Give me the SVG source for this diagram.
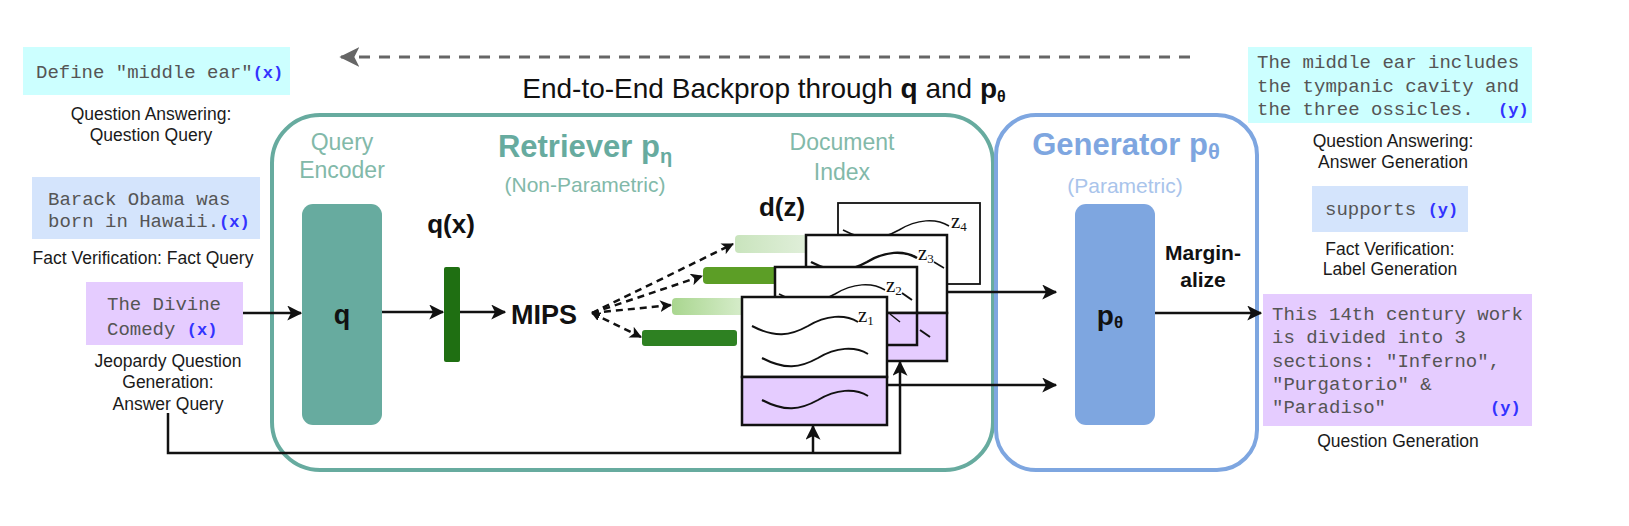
<svg xmlns="http://www.w3.org/2000/svg" xmlns:xlink="http://www.w3.org/1999/xlink" width="1629" height="526" viewBox="0 0 1629 526">
<style>
.sans{font-family:"Liberation Sans",Arial,sans-serif}
.mono{font-family:"Liberation Mono","Courier New",monospace;font-size:19px;fill:#555}
.tag{font-weight:bold;fill:#3333ff;font-size:17px}
.lbl{font-family:"Liberation Sans",Arial,sans-serif;font-size:17.5px;fill:#1a1a1a;text-anchor:middle}
.teal{fill:#82B9A9;font-size:23px;text-anchor:middle}
.bold{font-family:"Liberation Sans",Arial,sans-serif;font-weight:bold;fill:#111}
.conn{fill:none;stroke:#111;stroke-width:2.5}
.dash{fill:none;stroke:#111;stroke-width:2.5;stroke-dasharray:7 5}
.doc{fill:#fff;stroke:#111;stroke-width:2.5}
.purple{fill:#E5CCFF;stroke:#111;stroke-width:2.5}
.wave{fill:none;stroke:#111;stroke-width:2}
.z{font-family:"Liberation Serif","Times New Roman",serif;font-size:21px;fill:#111}
</style>
<defs>
<marker id="arr" viewBox="0 0 12 12" refX="11" refY="6" markerWidth="15" markerHeight="15" markerUnits="userSpaceOnUse" orient="auto">
<path d="M0,0 L12,6 L0,12 L3,6 z" fill="#111"/>
</marker>
<marker id="arrs" viewBox="0 0 12 12" refX="11" refY="6" markerWidth="12" markerHeight="12" markerUnits="userSpaceOnUse" orient="auto">
<path d="M0,0 L12,6 L0,12 L3,6 z" fill="#111"/>
</marker>
<marker id="arrstart" viewBox="0 0 12 12" refX="1" refY="6" markerWidth="9" markerHeight="9" markerUnits="userSpaceOnUse" orient="auto">
<path d="M12,0 L0,6 L12,12 z" fill="#111"/>
</marker>
<marker id="arrg" viewBox="0 0 12 12" refX="11" refY="6" markerWidth="20" markerHeight="20" markerUnits="userSpaceOnUse" orient="auto">
<path d="M0,0 L12,6 L0,12 L3,6 z" fill="#666"/>
</marker>
<linearGradient id="g1" x1="0" x2="1" y1="0" y2="0"><stop offset="0" stop-color="#c9e4bd"/><stop offset="1" stop-color="#e3f0dd"/></linearGradient>
<linearGradient id="g3" x1="0" x2="1" y1="0" y2="0"><stop offset="0" stop-color="#a9d68f"/><stop offset="1" stop-color="#dcefd2"/></linearGradient>
<path id="wv" d="M0,4 C23,16 38,14 56,4 C74,-7 93,-8 106,0"/>
</defs>

<g id="backprop">
<line x1="1190" y1="57" x2="341" y2="57" stroke="#666" stroke-width="3" stroke-dasharray="11 9" marker-end="url(#arrg)"/>
<text class="sans" x="764" y="98" font-size="28" text-anchor="middle" fill="#111">End-to-End Backprop through <tspan font-weight="bold">q</tspan> and <tspan font-weight="bold">p</tspan><tspan font-size="16" dy="4" font-weight="bold">θ</tspan></text>
</g>

<g id="retriever">
<rect x="272" y="115" width="721" height="355" rx="48" fill="none" stroke="#67AB9F" stroke-width="4"/>
<text class="bold" x="585" y="157" font-size="31" text-anchor="middle" style="fill:#67AB9F">Retriever p<tspan font-size="20" dy="6">η</tspan></text>
<text class="sans teal" x="585" y="192" style="font-size:21px">(Non-Parametric)</text>
</g>

<g id="generator">
<rect x="996" y="115" width="261" height="355" rx="40" fill="none" stroke="#7EA6E0" stroke-width="4"/>
<text class="bold" x="1126" y="155" font-size="31" text-anchor="middle" style="fill:#7EA6E0">Generator p<tspan font-size="22" dy="4">θ</tspan></text>
<text class="sans" x="1125" y="193" font-size="21" text-anchor="middle" fill="#A9C4EB">(Parametric)</text>
</g>

<g id="query-encoder">
<text class="sans teal" x="342" y="150">Query</text>
<text class="sans teal" x="342" y="178">Encoder</text>
<rect x="302" y="204" width="80" height="221" rx="11" fill="#67AB9F"/>
<text class="bold" x="342" y="324" font-size="27" text-anchor="middle">q</text>
</g>

<g id="qx">
<text class="bold" x="451" y="233" font-size="26" text-anchor="middle">q(x)</text>
<rect x="444" y="267" width="16" height="95" rx="2" fill="#1F6F12"/>
</g>

<g id="mips">
<text class="bold" x="511" y="324" font-size="27">MIPS</text>
</g>

<g id="document-index">
<text class="sans teal" x="842" y="150">Document</text>
<text class="sans teal" x="842" y="180">Index</text>
<text class="bold" x="782" y="216" font-size="26" text-anchor="middle">d(z)</text>
<rect x="735" y="235" width="80" height="18" rx="4" fill="url(#g1)"/>
<rect x="703" y="267" width="80" height="17" rx="4" fill="#5C9E26"/>
<rect x="672" y="298" width="80" height="17" rx="4" fill="url(#g3)"/>
<rect x="642" y="330" width="95" height="16" rx="3" fill="#2E8122"/>
</g>

<g id="doc4">
<rect x="838" y="203" width="142" height="81" fill="#fff" stroke="#111" stroke-width="1.8"/>
<use href="#wv" xlink:href="#wv" class="wave" transform="translate(843,226)" style="stroke-width:1.5"/>
<text class="z" x="951" y="228">z<tspan font-size="13" dy="3">4</tspan></text>
</g>

<g id="doc3">
<rect class="doc" x="806" y="235" width="141" height="78"/>
<rect class="purple" x="806" y="313" width="141" height="48"/>
<use href="#wv" xlink:href="#wv" class="wave" transform="translate(811,258)" style="stroke-width:2.5"/>
<text class="z" x="918" y="260">z<tspan font-size="13" dy="3">3</tspan></text>
<path class="wave" d="M934,262 l10,6" style="stroke-width:1.5"/>
<path class="wave" d="M920,330 l10,7"/>
</g>

<g id="doc2">
<rect class="doc" x="775" y="267" width="142" height="46"/>
<rect class="purple" x="775" y="313" width="142" height="32"/>
<use href="#wv" xlink:href="#wv" class="wave" transform="translate(779,290)" style="stroke-width:1.5"/>
<text class="z" x="886" y="292">z<tspan font-size="13" dy="3">2</tspan></text>
<path class="wave" d="M902,293 l10,7" style="stroke-width:2"/>
<path class="wave" d="M890,314 l10,8" style="stroke-width:1.5"/>
</g>

<g id="doc1">
<rect class="doc" x="742" y="297" width="145" height="80"/>
<rect class="purple" x="742" y="377" width="145" height="48"/>
<use href="#wv" xlink:href="#wv" class="wave" transform="translate(752,322)"/>
<text class="z" x="858" y="322">z<tspan font-size="13" dy="3">1</tspan></text>
<use href="#wv" xlink:href="#wv" class="wave" transform="translate(762,354)"/>
<use href="#wv" xlink:href="#wv" class="wave" transform="translate(762,396)"/>
</g>

<g id="generator-block">
<rect x="1075" y="204" width="80" height="221" rx="11" fill="#7EA6E0"/>
<text class="bold" x="1110" y="325" font-size="28" text-anchor="middle">p<tspan font-size="17" dy="3">θ</tspan></text>
<text class="bold" x="1203" y="260" font-size="21" text-anchor="middle">Margin-</text>
<text class="bold" x="1203" y="287" font-size="21" text-anchor="middle">alize</text>
</g>

<g id="input-qa">
<rect x="23" y="47" width="267" height="48" fill="#CCFFFF"/>
<text class="mono" x="36" y="78">Define "middle ear"<tspan class="tag">(x)</tspan></text>
<text class="lbl" x="151" y="120">Question Answering:</text>
<text class="lbl" x="151" y="141">Question Query</text>
</g>

<g id="input-fv">
<rect x="32" y="177" width="228" height="62" fill="#D4E4FC"/>
<text class="mono" x="48" y="205">Barack Obama was</text>
<text class="mono" x="48" y="227">born in Hawaii.<tspan class="tag">(x)</tspan></text>
<text class="lbl" x="143" y="264">Fact Verification: Fact Query</text>
</g>

<g id="input-jeopardy">
<rect x="86" y="282" width="157" height="63" fill="#E5CCFF"/>
<text class="mono" x="107" y="310">The Divine</text>
<text class="mono" x="107" y="335">Comedy <tspan class="tag">(x)</tspan></text>
<text class="lbl" x="168" y="367">Jeopardy Question</text>
<text class="lbl" x="168" y="388">Generation:</text>
<text class="lbl" x="168" y="410">Answer Query</text>
</g>

<g id="output-qa">
<rect x="1248" y="47" width="284" height="76" fill="#CCFFFF"/>
<text class="mono" x="1257" y="68">The middle ear includes</text>
<text class="mono" x="1257" y="92">the tympanic cavity and</text>
<text class="mono" x="1257" y="115">the three ossicles.<tspan class="tag" x="1498">(y)</tspan></text>
<text class="lbl" x="1393" y="147">Question Answering:</text>
<text class="lbl" x="1393" y="168">Answer Generation</text>
</g>

<g id="output-fv">
<rect x="1312" y="186" width="156" height="46" fill="#D4E4FC"/>
<text class="mono" x="1325" y="215">supports <tspan class="tag">(y)</tspan></text>
<text class="lbl" x="1390" y="255">Fact Verification:</text>
<text class="lbl" x="1390" y="275">Label Generation</text>
</g>

<g id="output-jeopardy">
<rect x="1263" y="294" width="269" height="132" fill="#E5CCFF"/>
<text class="mono" x="1272" y="320">This 14th century work</text>
<text class="mono" x="1272" y="343">is divided into 3</text>
<text class="mono" x="1272" y="367">sections: "Inferno",</text>
<text class="mono" x="1272" y="390">"Purgatorio" &amp;</text>
<text class="mono" x="1272" y="413">"Paradiso"<tspan class="tag" x="1490">(y)</tspan></text>
<text class="lbl" x="1398" y="447">Question Generation</text>
</g>

<g id="connectors">
<line class="conn" x1="243" y1="313" x2="301" y2="313" marker-end="url(#arr)"/>
<line class="conn" x1="382" y1="312" x2="443" y2="312" marker-end="url(#arr)"/>
<line class="conn" x1="460" y1="312" x2="505" y2="312" marker-end="url(#arr)"/>
<line class="dash" x1="592" y1="313" x2="733" y2="244" marker-end="url(#arrs)"/>
<line class="dash" x1="592" y1="313" x2="702" y2="276" marker-end="url(#arrs)"/>
<line class="dash" x1="592" y1="313" x2="671" y2="305" marker-end="url(#arrs)"/>
<line class="dash" x1="592" y1="313" x2="641" y2="337" marker-end="url(#arrs)" marker-start="url(#arrstart)"/>
<line class="conn" x1="947" y1="292" x2="1056" y2="292" marker-end="url(#arr)"/>
<line class="conn" x1="887" y1="385" x2="1056" y2="385" marker-end="url(#arr)"/>
<line class="conn" x1="1155" y1="313" x2="1261" y2="313" marker-end="url(#arr)"/>
<path class="conn" d="M168,413 V453 H900 V362" marker-end="url(#arr)"/>
<path class="conn" d="M813,453 V426" marker-end="url(#arr)"/>
</g>
</svg>
